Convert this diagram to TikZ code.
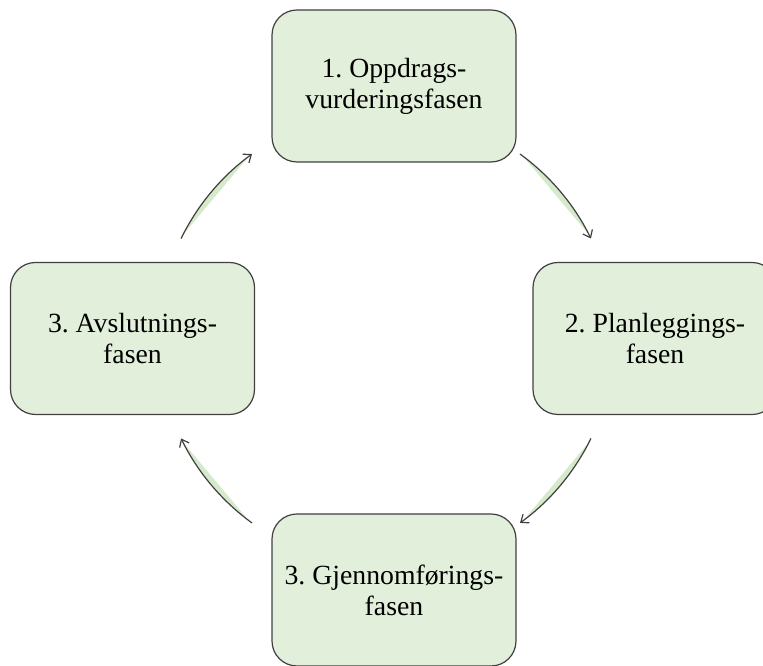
\documentclass[tikz,border=0pt]{standalone}
\usepackage{fontspec}
\setmainfont{Liberation Serif}
\usetikzlibrary{arrows.meta,calc}
\definecolor{boxfill}{HTML}{E2EFDA}
\definecolor{boxline}{HTML}{404040}
\definecolor{arcfill}{HTML}{D5EACB}
\frenchspacing
\begin{document}
\begin{tikzpicture}[x=0.75pt,y=0.75pt,
  phase/.style={draw=boxline, line width=0.9pt, fill=boxfill,
    rounded corners=18.75pt, minimum width=183pt, minimum height=114pt,
    align=center, inner sep=0pt, text=black,
    font=\fontsize{20.8}{23.3}\selectfont},
  cyclearrow/.style={draw=boxline, line width=0.9pt,
    -{Straight Barb[length=5pt,width=8pt]}},
  crescent/.style={fill=arcfill}]
\useasboundingbox (0,0) rectangle (763,666);
\clip (0,0) rectangle (763,666);
\node[phase] (top) at (394,580) {1. Oppdrags-\\vurderingsfasen};
\node[phase] (right) at (655,327.5) {2. Planleggings-\\fasen};
\node[phase] (bottom) at (394,76) {3. Gjennomførings-\\fasen};
\node[phase] (left) at (132.5,327.5) {3. Avslutnings-\\fasen};
\coordinate (c) at (386,327.5);
% crescents
\fill[crescent] ($(c)+(153:228)$) arc[start angle=153,end angle=127,radius=228] -- cycle;
\fill[crescent] ($(c)+(53:228)$) arc[start angle=53,end angle=27,radius=228] -- cycle;
\fill[crescent] ($(c)+(-27:228)$) arc[start angle=-27,end angle=-53,radius=228] -- cycle;
\fill[crescent] ($(c)+(-127:228)$) arc[start angle=-127,end angle=-153,radius=228] -- cycle;
% arrows
\coordinate (a1) at ($(c)+(154:228)$);
\coordinate (a2) at ($(c)+(54:228)$);
\coordinate (a3) at ($(c)+(-26:228)$);
\coordinate (a4) at ($(c)+(-126:228)$);
\draw[cyclearrow] (a1) arc[start angle=154,end angle=126,radius=228];
\draw[cyclearrow] (a2) arc[start angle=54,end angle=26,radius=228];
\draw[cyclearrow] (a3) arc[start angle=-26,end angle=-54,radius=228];
\draw[cyclearrow] (a4) arc[start angle=-126,end angle=-154,radius=228];
\end{tikzpicture}
\end{document}
